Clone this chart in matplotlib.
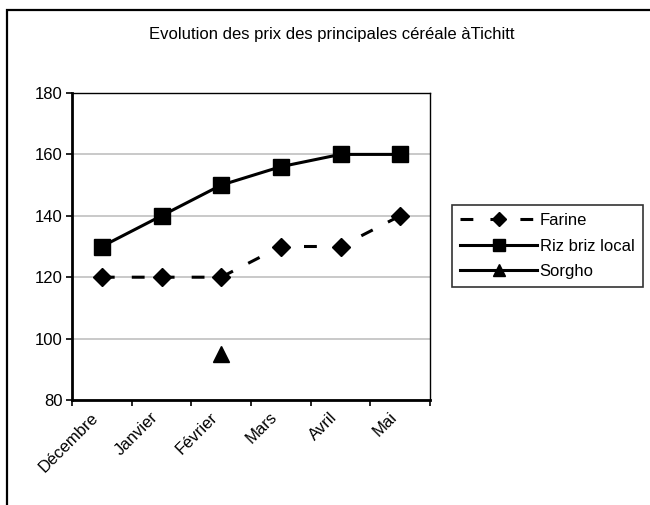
import numpy as np
import matplotlib
matplotlib.use('Agg')
import matplotlib.pyplot as plt
from matplotlib.patches import Rectangle
from matplotlib.transforms import ScaledTranslation

plt.rcParams['font.family'] = ['Liberation Sans', 'DejaVu Sans']

# data
mois = ['Décembre', 'Janvier', 'Février', 'Mars', 'Avril', 'Mai']
farine = [120, 120, 120, 130, 130, 140]
riz = [130, 140, 150, 156, 160, 160]
sorgho = [np.nan, np.nan, 95, np.nan, np.nan, np.nan]
yticks = [80, 100, 120, 140, 160, 180]

fig = plt.figure(figsize=(6.5, 5.05), dpi=100)
ax = fig.add_axes([72/650, 1 - 400/505, 358/650, 307/505])

x = np.arange(len(mois))
ax.plot(x, farine, color='black', lw=2.2, linestyle=(0, (4.2, 5.6)),
        marker='D', markersize=9, label='Farine')
ax.plot(x, riz, color='black', lw=2.2, marker='s', markersize=11.5,
        label='Riz briz local')
ax.plot(x, sorgho, color='black', lw=2.2, marker='^', markersize=11,
        label='Sorgho')

ax.set_xlim(-0.5, len(mois) - 0.5)
ax.set_ylim(80, 180)
ax.set_yticks(yticks)
ax.set_yticklabels([str(v) for v in yticks], fontsize=12)
ax.yaxis.grid(True, color='#c0c0c0', lw=1.2)
ax.set_axisbelow(True)

# ticks on category boundaries, labels on centers
ax.set_xticks(np.arange(-0.5, len(mois), 1.0))
ax.set_xticklabels([])
ax.set_xticks(x, minor=True)
ax.set_xticklabels(mois, minor=True, rotation=45, ha='right',
                   rotation_mode='anchor', fontsize=12)
ax.tick_params(axis='x', which='minor', length=0, pad=7)
ax.tick_params(axis='both', which='major', direction='out', length=4,
               width=1.2, color='black')
ax.tick_params(axis='y', pad=3)
shift = ScaledTranslation(-11/100, 0, fig.dpi_scale_trans)
for lab in ax.get_xticklabels(minor=True):
    lab.set_transform(lab.get_transform() + shift)

for s in ['left', 'bottom']:
    ax.spines[s].set_linewidth(2)
for s in ['top', 'right']:
    ax.spines[s].set_linewidth(1)

fig.text(332/650, 1 - 34/505, 'Evolution des prix des principales céréale àTichitt',
         ha='center', va='center', fontsize=12)

leg = fig.legend(loc='upper left', bbox_to_anchor=(452/650, 1 - 205/505),
                 fontsize=12, frameon=True, fancybox=False, borderaxespad=0,
                 handlelength=4.6, borderpad=0.5, labelspacing=0.62,
                 handletextpad=0.15, markerscale=0.75)
leg.get_frame().set_edgecolor('black')
leg.get_frame().set_linewidth(1.2)

# outer chart border (cut by the image on right and bottom)
fig.patches.append(Rectangle((6.5/650, -0.1), 1.2, 1 - 9.5/505 + 0.1,
                             transform=fig.transFigure, fill=False,
                             edgecolor='black', lw=1.6, clip_on=False))

fig.savefig('out.png', dpi=100)
